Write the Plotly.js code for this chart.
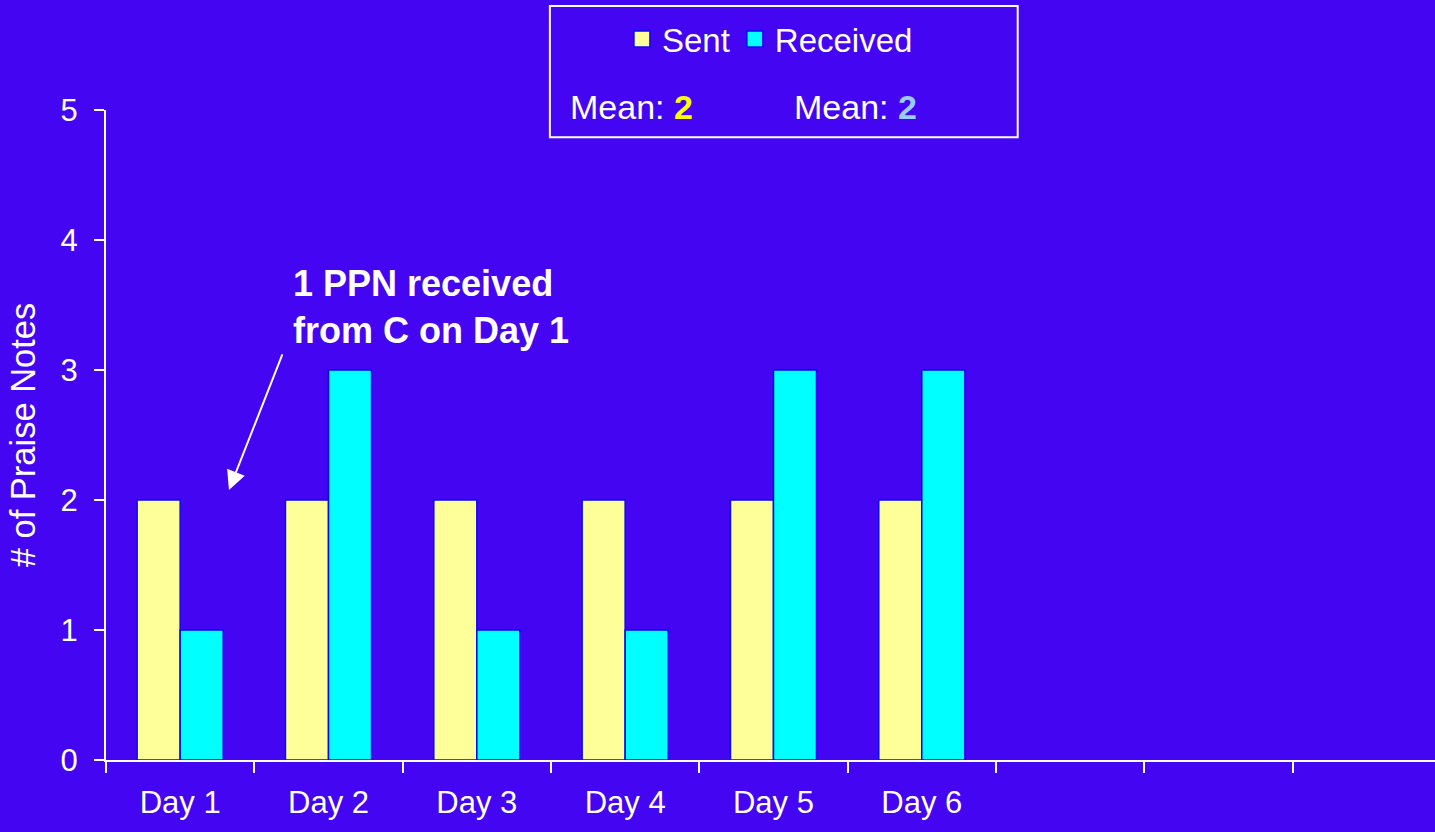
<!DOCTYPE html>
<html>
<head>
<meta charset="utf-8">
<script src="https://cdn.plot.ly/plotly-3.0.1.min.js"></script>
<style>html,body{margin:0;padding:0;background:#4405F2;}</style>
</head>
<body>
<div id="chart" style="width:1435px;height:832px;"></div>
<script>
const categories = ["Day 1", "Day 2", "Day 3", "Day 4", "Day 5", "Day 6", " ", "  ", "   "];
const days = ["Day 1", "Day 2", "Day 3", "Day 4", "Day 5", "Day 6"];
const seriesNames = ["Sent", "Received"];
const sentValues = [2, 2, 2, 2, 2, 2];
const receivedValues = [1, 3, 1, 1, 3, 3];
const sentMean = 2;
const receivedMean = 2;

const FONT = "Arial, 'Liberation Sans', sans-serif";
const BG = "#4405F2";
const SENT_COLOR = "#FFFF99";
const RECV_COLOR = "#00FFFF";
const EDGE = "#0A0AF5";

const traces = [
  {
    type: "bar", name: seriesNames[0], x: days, y: sentValues, showlegend: false,
    marker: {color: SENT_COLOR, line: {color: EDGE, width: 1.5}},
    hoverinfo: "skip"
  },
  {
    type: "bar", name: seriesNames[1], x: days, y: receivedValues, showlegend: false,
    marker: {color: RECV_COLOR, line: {color: EDGE, width: 1.5}},
    hoverinfo: "skip"
  },
  {
    type: "scatter", mode: "markers", name: seriesNames[0], x: [null], y: [null],
    marker: {symbol: "square", size: 17, color: SENT_COLOR, line: {color: EDGE, width: 1.5}},
    showlegend: true, hoverinfo: "skip"
  },
  {
    type: "scatter", mode: "markers", name: seriesNames[1], x: [null], y: [null],
    marker: {symbol: "square", size: 17, color: RECV_COLOR, line: {color: EDGE, width: 1.5}},
    showlegend: true, hoverinfo: "skip"
  }
];

const layout = {
  width: 1435, height: 832,
  paper_bgcolor: BG, plot_bgcolor: BG,
  margin: {l: 106, r: 0, t: 110, b: 72},
  font: {family: FONT, color: "#FFFFFF", size: 31},
  barmode: "group", bargap: 0.42, bargroupgap: 0,
  showlegend: true,
  legend: {
    orientation: "h", xref: "container", yref: "container",
    x: 0.4334, y: 0.953, xanchor: "left", yanchor: "middle",
    bgcolor: "rgba(0,0,0,0)", font: {size: 33, color: "#FFFFFF"},
    itemwidth: 30, traceorder: "normal"
  },
  xaxis: {
    type: "category", categoryorder: "array", categoryarray: categories,
    range: [-0.5, 8.46], fixedrange: true,
    showline: true, linecolor: "#FFFFFF", linewidth: 2,
    ticks: "outside", tickson: "boundaries", ticklen: 11, tickwidth: 2, tickcolor: "#FFFFFF",
    ticklabelstandoff: 14,
    tickfont: {size: 31, color: "#FFFFFF"},
    showgrid: false, zeroline: false
  },
  yaxis: {
    range: [0, 5], dtick: 1, tick0: 0, fixedrange: true,
    showline: true, linecolor: "#FFFFFF", linewidth: 2,
    ticks: "outside", ticklen: 10, tickwidth: 2, tickcolor: "#FFFFFF",
    ticklabelstandoff: 10,
    tickfont: {size: 31, color: "#FFFFFF"},
    showgrid: false, zeroline: false,
    title: {text: "# of Praise Notes", font: {size: 34.5, color: "#FFFFFF"}, standoff: 14}
  },
  shapes: [
    {type: "rect", xref: "paper", yref: "paper", x0: 0.334, x1: 0.686, y0: 0.958, y1: 1.16,
     line: {color: "#FFFFFF", width: 2}, fillcolor: "rgba(0,0,0,0)"}
  ],
  annotations: [
    {xref: "paper", yref: "paper", x: 0.348, y: 1.0046, xanchor: "left", yanchor: "middle",
     text: "Mean: <b><span style='color:#FFFF00'>" + sentMean + "</span></b>",
     showarrow: false, font: {size: 34, color: "#FFFFFF"}},
    {xref: "paper", yref: "paper", x: 0.516, y: 1.0046, xanchor: "left", yanchor: "middle",
     text: "Mean: <b><span style='color:#99CCFF'>" + receivedMean + "</span></b>",
     showarrow: false, font: {size: 34, color: "#FFFFFF"}},
    {xref: "paper", yref: "paper", x: 0.1395, y: 0.697, xanchor: "left", yanchor: "middle",
     align: "left",
     text: "<b>1 PPN received<br>from C on Day 1</b>",
     showarrow: false, font: {size: 36, color: "#FFFFFF"}},
    {xref: "x", yref: "y", x: 0.329, y: 2.077, ax: 54, ay: -137, axref: "pixel", ayref: "pixel",
     text: "", showarrow: true, arrowhead: 2, arrowsize: 1.9, arrowwidth: 2, arrowcolor: "#FFFFFF"}
  ]
};

Plotly.newPlot("chart", traces, layout, {displayModeBar: false, staticPlot: true});
</script>
</body>
</html>
